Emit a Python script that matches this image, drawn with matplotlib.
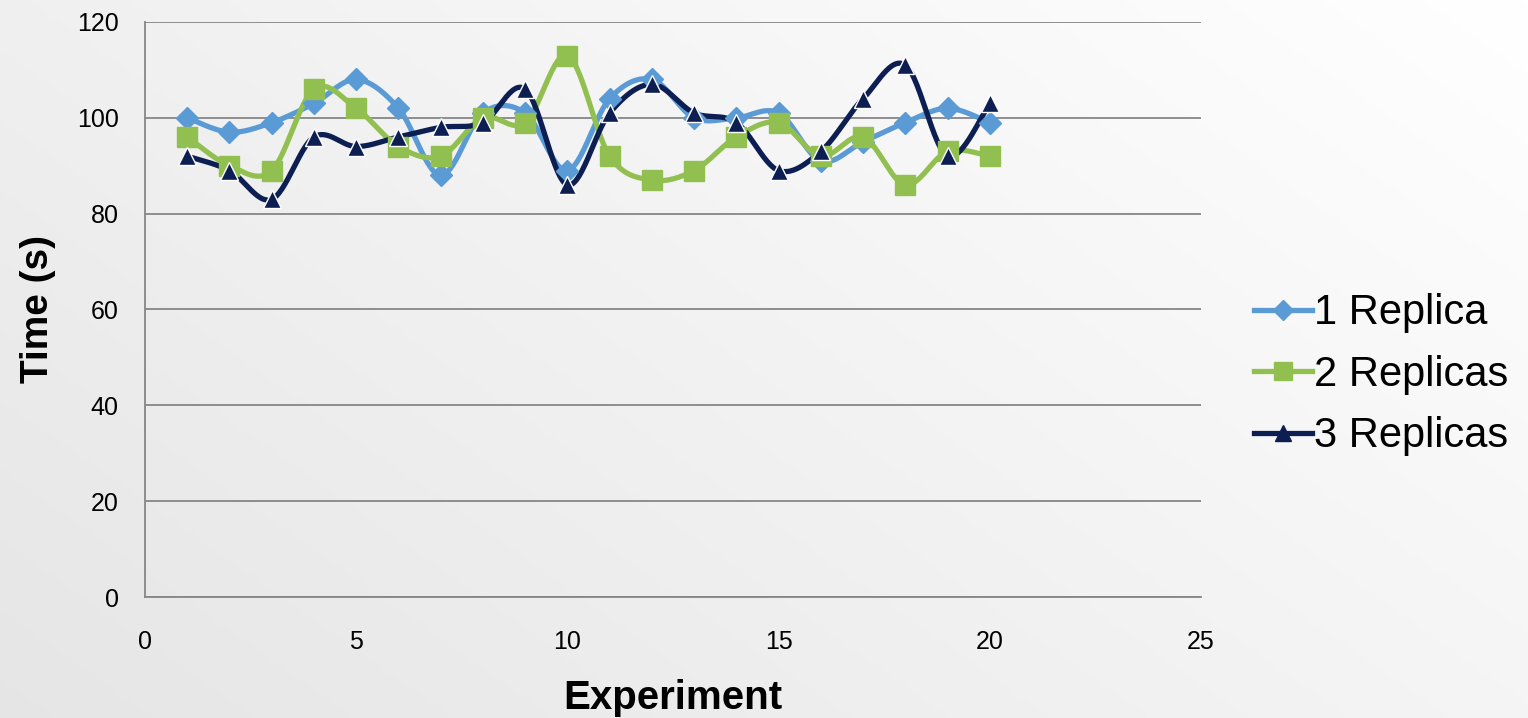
import numpy as np
import matplotlib
matplotlib.use('Agg')
import matplotlib.pyplot as plt
from matplotlib.lines import Line2D

# data
experiment = list(range(1, 21))
replica1 = [100, 97, 99, 103, 108, 102, 88, 101, 101, 89, 104, 108, 100, 100, 101, 91, 95, 99, 102, 99]
replica2 = [96, 90, 89, 106, 102, 94, 92, 100, 99, 113, 92, 87, 89, 96, 99, 92, 96, 86, 93, 92]
replica3 = [92, 89, 83, 96, 94, 96, 98, 99, 106, 86, 101, 107, 101, 99, 89, 93, 104, 111, 92, 103]
labels = ['1 Replica', '2 Replicas', '3 Replicas']

plt.rcParams['font.family'] = ['Liberation Sans', 'DejaVu Sans']

def smooth(x, y, n=30):
	# excel-like smoothed line: cubic bezier with catmull-rom control points
	x = np.asarray(x, float); y = np.asarray(y, float)
	px = np.concatenate([[x[0]], x, [x[-1]]]); py = np.concatenate([[y[0]], y, [y[-1]]])
	xs, ys = [], []
	t = np.linspace(0, 1, n)
	for i in range(len(x) - 1):
		p0 = np.array([x[i], y[i]]); p3 = np.array([x[i + 1], y[i + 1]])
		p1 = p0 + (np.array([px[i + 2], py[i + 2]]) - np.array([px[i], py[i]])) / 6
		p2 = p3 - (np.array([px[i + 3], py[i + 3]]) - np.array([px[i + 1], py[i + 1]])) / 6
		b = ((1 - t) ** 3)[:, None] * p0 + (3 * (1 - t) ** 2 * t)[:, None] * p1 + (3 * (1 - t) * t ** 2)[:, None] * p2 + (t ** 3)[:, None] * p3
		xs.extend(b[:, 0]); ys.extend(b[:, 1])
	return xs, ys

fig = plt.figure(figsize=(15.28, 7.18), dpi=100)

# background gradient
bg = fig.add_axes([0, 0, 1, 1], zorder=-10)
gx, gy = np.meshgrid(np.linspace(0, 1, 300), np.linspace(0, 1, 150))
g = np.clip(0.6 * gx + 0.4 * (1 - gy), 0, 1)
lo = np.array([0.9, 0.9, 0.9]); hi = np.array([1.0, 1.0, 1.0])
img = lo + (hi - lo) * g[..., None]
bg.imshow(img, aspect='auto', extent=[0, 1, 0, 1], origin='upper')
bg.axis('off')

ax = fig.add_axes([0.0949, 0.1685, 0.6911, 0.8009])
ax.patch.set_alpha(0)

colors = ['#5B9BD5', '#92C050', '#0C1E52']
markers = ['D', 's', '^']
msizes = [11, 14, 13.5]
series = [replica1, replica2, replica3]

for vals, c, m, ms in zip(series, colors, markers, msizes):
	sx, sy = smooth(experiment, vals)
	ax.plot(sx, sy, color=c, lw=3.8, solid_capstyle='round', zorder=3)
	ax.plot(experiment, vals, ls='none', marker=m, ms=ms, color=c,
		markeredgecolor='white' if m == '^' else c, markeredgewidth=1.0, zorder=4)

ax.set_xlim(0, 25)
ax.set_ylim(0, 120)
ax.set_xticks(range(0, 26, 5))
ax.set_yticks(range(0, 121, 20))
ax.grid(axis='y', color='#868686', lw=1.3)
ax.set_axisbelow(True)
for s in ['top', 'right']: ax.spines[s].set_visible(False)
for s in ['left', 'bottom']:
	ax.spines[s].set_color('#868686'); ax.spines[s].set_linewidth(1.3)
ax.tick_params(axis='y', length=0, labelsize=18, pad=19)
ax.tick_params(axis='x', length=0, labelsize=18, pad=24)
ax.set_xlabel('Experiment', fontsize=29, fontweight='bold', labelpad=18)
ax.set_ylabel('Time (s)', fontsize=28, fontweight='bold', labelpad=15)

handles = [Line2D([], [], color=c, lw=3.8, marker=m, ms=ms * 0.9, markeredgecolor=c)
	for c, m, ms in zip(colors, markers, msizes)]
leg = fig.legend(handles, labels, loc='center left', bbox_to_anchor=(0.821, 0.478),
	frameon=False, fontsize=30, handlelength=1.37, handletextpad=0.05,
	labelspacing=0.52, borderpad=0, borderaxespad=0)

fig.savefig('out.png', dpi=100)
